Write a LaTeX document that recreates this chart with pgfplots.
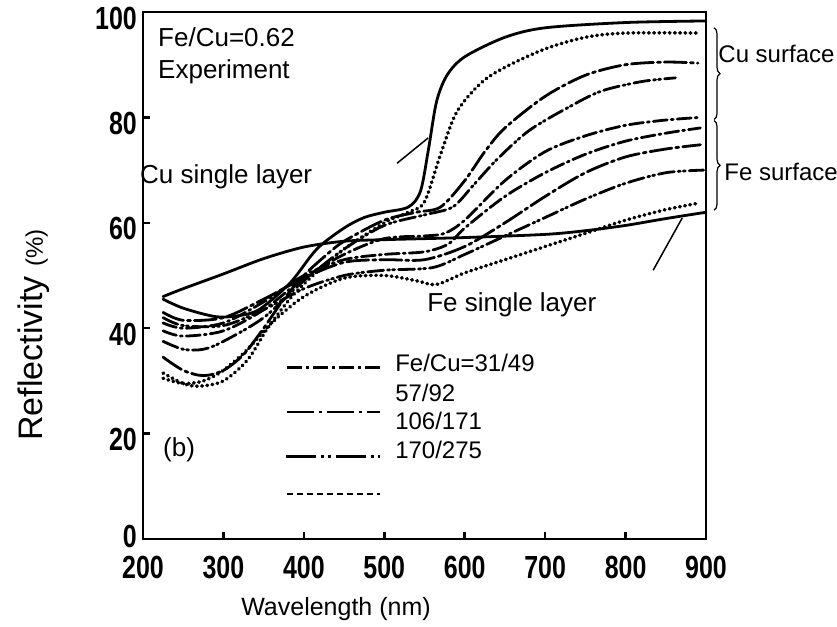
\documentclass[border=0pt]{standalone}
\usepackage{fontspec}
\setmainfont{Liberation Sans}
\newfontfamily\tickfont[FakeStretch=0.78]{Liberation Sans}
\usepackage{pgfplots}
\pgfplotsset{compat=1.18}
\usetikzlibrary{decorations.pathreplacing}
\begin{document}
\begin{tikzpicture}[x=1pt,y=1pt]
\useasboundingbox (-143,-87) rectangle (694,539);
\begin{axis}[at={(0,0)}, anchor=south west, scale only axis,
  width=563pt, height=527pt,
  xmin=200, xmax=900, ymin=0, ymax=100,
  xtick={200,300,...,900}, ytick={20,40,...,100},
  extra y ticks={0},
  extra y tick style={yticklabel style={yshift=9pt}},
  tick align=inside, tick pos=left, major tick length=7pt,
  axis line style={line width=2.5pt},
  every tick/.style={line width=2.5pt, black},
  /pgf/number format/assume math mode=true,
  ticklabel style={font=\fontsize{32}{32}\tickfont\bfseries},
  xticklabel style={inner sep=0pt, anchor=north, yshift=-17pt},
  yticklabel style={inner sep=0pt, anchor=east, xshift=-6pt, yshift=-6pt},
  clip=false,
  every axis plot/.append style={line width=2.8pt, black, no markers, smooth, line cap=round},
]
% Fe single layer (solid)
\addplot[solid] coordinates {(225,46)(250,47.5)(300,50.3)(350,53.2)(400,55.4)(450,56.5)(500,56.8)(600,57.2)(700,57.8)(750,58.5)(800,59.5)(850,60.8)(900,62)};
% Cu single layer (solid)
\addplot[solid] coordinates {(225,45.5)(250,43.8)(290,42.2)(320,42.4)(345,43.6)(383,48.6)(416,55)(450,59)(475,61)(500,62)(530,63)(545,66)(555,74)(565,83)(578,88)(600,91.5)(650,95.2)(700,97)(800,98)(900,98.3)};
% Cu surface, dotted
\addplot[line width=3.6pt, dash pattern=on 0.6pt off 4.6pt] coordinates {(225,31.5)(250,29.5)(270,29)(300,30)(330,34)(355,40)(385,46)(415,50.5)(450,55)(500,60)(530,62)(550,64)(570,73)(590,81)(620,86.5)(650,89.5)(700,93)(750,95.2)(800,96)(893,96)};
% Cu surface, long dash
\addplot[dash pattern=on 22pt off 4pt on 3pt off 4pt] coordinates {(225,34.5)(250,32)(275,31)(300,32)(325,35)(350,40)(375,45.5)(400,50)(425,53.5)(450,56.5)(500,60.5)(540,62)(570,63)(600,68)(625,73.5)(650,78)(700,84)(750,88)(800,90)(850,90.5)(890,90.3)};
% Cu surface, dash-dot-dot
\addplot[dash pattern=on 16pt off 4pt on 2pt off 3pt on 2pt off 4pt] coordinates {(225,37.5)(250,36)(275,36)(300,37.5)(350,42)(400,49)(450,55)(500,59.5)(550,61.5)(585,63)(610,67)(640,72)(680,77.5)(730,82)(770,85)(820,86.8)(862,87.5)};
% dash-dot
\addplot[dash pattern=on 14pt off 4pt on 2pt off 4pt] coordinates {(225,39.5)(250,38.5)(300,39.5)(350,43.5)(400,49.5)(450,54)(500,57)(550,57.5)(575,58)(600,60.5)(650,68)(700,73.5)(750,76.5)(800,78.5)(850,79.5)(893,80)};
% Fe surface
\addplot[dash pattern=on 14pt off 4pt on 2pt off 4pt] coordinates {(225,41)(250,40)(300,41)(350,45)(400,50)(450,53)(500,54)(550,54.5)(580,56)(600,59)(650,65)(700,69.5)(750,73)(800,75.5)(850,77)(893,78)};
\addplot[dash pattern=on 22pt off 4pt on 3pt off 4pt] coordinates {(225,43)(250,41.5)(300,42)(350,45.5)(400,49.5)(450,52.5)(500,53)(550,53)(600,55.5)(650,60)(700,65)(750,69.5)(800,72.5)(850,74)(893,74.8)};
\addplot[dash pattern=on 16pt off 4pt on 2pt off 3pt on 2pt off 4pt] coordinates {(225,42)(250,40.5)(300,40.5)(350,43.5)(400,47.5)(450,50)(500,51)(560,51.5)(600,54)(650,57.5)(700,61)(750,64.5)(800,67.5)(850,69.5)(897,70)};
\addplot[line width=3.6pt, dash pattern=on 0.6pt off 4.6pt] coordinates {(225,30.5)(250,29.5)(275,30)(300,32)(330,36)(360,41)(400,46)(450,49.5)(500,50)(540,49)(565,48.3)(600,50.5)(650,53)(700,55.5)(750,58)(800,60.5)(850,62.5)(890,63.7)};

% legend samples
\draw[line width=2.8pt, dash pattern=on 15pt off 4pt on 3pt off 4pt] (axis cs:379,32.6) -- (axis cs:495,32.6);
\draw[line width=2.8pt, dash pattern=on 27pt off 5pt on 3pt off 5pt] (axis cs:379,24.1) -- (axis cs:495,24.1);
\draw[line width=2.8pt, dash pattern=on 30pt off 5pt on 3pt off 4pt on 3pt off 5pt] (axis cs:378,15.7) -- (axis cs:495,15.7);
\draw[line width=2.5pt, dash pattern=on 6pt off 4pt] (axis cs:379,8.5) -- (axis cs:495,8.5);

\node[anchor=base west, inner sep=0pt, font=\fontsize{24}{24}\selectfont] at (axis cs:513.4,31.7) {Fe/Cu=31/49};
\node[anchor=base west, inner sep=0pt, font=\fontsize{24}{24}\selectfont] at (axis cs:513.4,26.0) {57/92};
\node[anchor=base west, inner sep=0pt, font=\fontsize{24}{24}\selectfont] at (axis cs:513.4,20.7) {106/171};
\node[anchor=base west, inner sep=0pt, font=\fontsize{24}{24}\selectfont] at (axis cs:513.4,15.2) {170/275};

\node[anchor=base west, inner sep=0pt, font=\fontsize{26}{26}\selectfont] at (axis cs:218.7,93.4) {Fe/Cu=0.62};
\node[anchor=base west, inner sep=0pt, font=\fontsize{26}{26}\selectfont] at (axis cs:218.7,87.3) {Experiment};
\node[anchor=base west, inner sep=0pt, font=\fontsize{26}{26}\selectfont] at (axis cs:196.3,67.4) {Cu single layer};
\node[anchor=base west, inner sep=0pt, font=\fontsize{26}{26}\selectfont] at (axis cs:553.2,43.1) {Fe single layer};
\node[anchor=base west, inner sep=0pt, font=\fontsize{26}{26}\selectfont] at (axis cs:224.9,15.6) {(b)};

\draw[line width=1.5pt] (axis cs:515.9,71.3) -- (axis cs:554.5,76.1);
\draw[line width=1.5pt] (axis cs:834.3,51.0) -- (axis cs:870.4,60.9);

\draw[line width=1.2pt, decorate, decoration={brace, amplitude=6pt}] (axis cs:910,97) -- (axis cs:910,79.6);
\draw[line width=1.2pt, decorate, decoration={brace, amplitude=6pt}] (axis cs:910,79.4) -- (axis cs:910,62.4);
\node[anchor=base west, inner sep=0pt, font=\fontsize{24}{24}\selectfont] at (axis cs:915.2,90.5) {Cu surface};
\node[anchor=base west, inner sep=0pt, font=\fontsize{24}{24}\selectfont] at (axis cs:922.6,68.1) {Fe surface};
\end{axis}
\node[rotate=90, anchor=base, inner sep=0pt] at (-100,204) {\fontsize{34}{34}\selectfont Reflectivity \fontsize{24}{24}\selectfont(\%)};
\node[anchor=base, inner sep=0pt, font=\fontsize{25}{25}\selectfont] at (193,-76) {Wavelength (nm)};
\end{tikzpicture}
\end{document}
